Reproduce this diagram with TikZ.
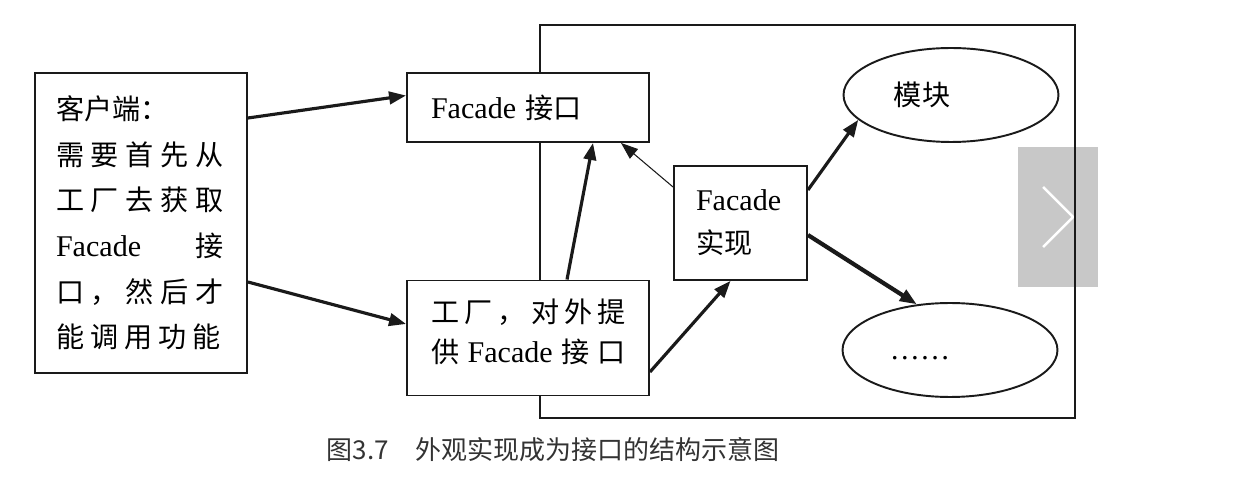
\documentclass[tikz,border=0pt]{standalone}
\usepackage{fontspec}
\setmainfont{Noto Sans CJK SC}
\newfontfamily\lat[Scale=1.07]{Liberation Serif}
\usetikzlibrary{calc,arrows.meta,shapes.geometric}
\definecolor{linec}{HTML}{1A1A1A}
\definecolor{capc}{HTML}{333333}
\definecolor{btnc}{HTML}{C8C8C8}
\newcommand{\sline}[2]{\makebox[#1]{#2}}
\tikzset{
  box/.style={draw=linec,line width=1.1pt,fill=white,align=left,inner ysep=0pt,font=\fontsize{16pt}{26pt}\selectfont},
  ell/.style={ellipse,draw=linec,line width=1.1pt,fill=white,minimum width=4.3cm,minimum height=1.88cm,inner sep=0pt},
  txt/.style={font=\fontsize{16pt}{26pt}\selectfont,inner sep=0pt},
  ar/.style={-{Triangle[length=3.4mm,width=2.5mm]},line width=1.8pt,linec},
  arthin/.style={-{Triangle[length=3.4mm,width=2.5mm]},line width=0.6pt,linec}
}

\begin{document}
\begin{tikzpicture}[x=0.02cm,y=-0.02cm]
\useasboundingbox (0,0) rectangle (1237,479);
% page button and subsystem frame
\fill[btnc] (1018,147) rectangle (1098,287);
\draw[white,line width=1.4pt] (1043,187) -- (1073,217) -- (1043,247);
\draw[linec,line width=1.1pt] (540,25) rectangle (1075,418);
% boxes
\node[box,text width=3.4cm,inner xsep=0.42cm,minimum height=6cm] (cli) at (141,223)
  {客户端：\\ \sline{3.36cm}{需\hfill 要\hfill 首\hfill 先\hfill 从}\\
   \sline{3.36cm}{工\hfill 厂\hfill 去\hfill 获\hfill 取}\\
   \sline{3.36cm}{{\lat Facade}\hfill 接}\\
   \sline{3.36cm}{口\hfill ，\hfill 然\hfill 后\hfill 才}\\
   \sline{3.3cm}{能\hfill 调\hfill 用\hfill 功\hfill 能}};
\node[box,text width=3.88cm,inner xsep=0.48cm,minimum height=1.38cm] (face) at (528,107.5)
  {{\lat Facade} 接口};
\node[box,text width=3.88cm,inner xsep=0.48cm,minimum height=2.3cm,
  font=\fontsize{16pt}{22.8pt}\selectfont] (fact) at (528,338)
  {\sline{3.9cm}{工\hfill 厂\hfill ，\hfill 对\hfill 外\hfill 提}\\
   \sline{3.9cm}{供\hfill {\lat Facade}\hfill 接\hfill 口}\\[-14pt]\mbox{}};
\node[box,text width=1.78cm,inner xsep=0.44cm,minimum height=2.28cm,
  font=\fontsize{16pt}{24.5pt}\selectfont] (impl) at (740.5,223)
  {{\lat Facade}\\ 实现};
\node[ell] (mod1) at (951,95) {};
\node[ell] (mod2) at (950,350) {};
\node[txt] (modt) at ($(mod1)+(-29,0)$) {模块};
\node[txt,anchor=base] (dots) at ($(mod2)+(-30,9)$) {\lat ……};
% connectors
\draw[ar] ($(cli.east)+(0,-105)$) -- ($(face.west)+(0,-12)$);
\draw[ar] ($(cli.east)+(0,59)$) -- ($(fact.west)+(0,-14)$);
\draw[ar] ($(fact.north)+(39,0)$) -- ($(face.south)+(65,0)$);
\draw[arthin] ($(impl.west)+(0,-36)$) -- ($(face.south)+(93,0)$);
\draw[ar] ($(fact.east)+(0,34)$) -- ($(impl.south)+(-10,0)$);
\draw[ar] ($(impl.east)+(0,-33)$) -- (mod1.195);
\draw[ar,line width=2.4pt] ($(impl.east)+(0,12)$) -- (mod2.126);
% caption
\node[font=\fontsize{14.8pt}{18pt}\selectfont,text=capc,inner sep=0pt] (cap) at (553,450)
  {图3.7\quad 外观实现成为接口的结构示意图};
\end{tikzpicture}
\end{document}
